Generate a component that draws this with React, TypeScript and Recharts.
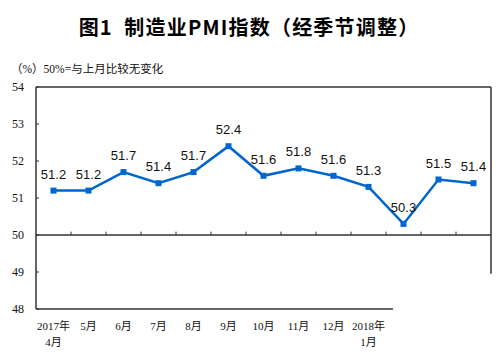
import React from "react"
import { LineChart, Line, XAxis, YAxis, ReferenceLine, LabelList } from "recharts"

// 制造业PMI指数（经季节调整）
const months = ["2017年\n4月", "5月", "6月", "7月", "8月", "9月", "10月", "11月", "12月", "2018年\n1月", "", "", ""]
const pmi = [51.2, 51.2, 51.7, 51.4, 51.7, 52.4, 51.6, 51.8, 51.6, 51.3, 50.3, 51.5, 51.4]
const yTicks = [48, 49, 50, 51, 52, 53, 54]
const labelTicks = [0, 1, 2, 3, 4, 5, 6, 7, 8, 9]
const midTicks = [0.5, 1.5, 2.5, 3.5, 4.5, 5.5, 6.5, 7.5, 8.5, 9.5, 10.5, 11.5]

const data = pmi.map((value, i) => ({ i, month: months[i], value }))

const BLUE = "#0066cc"
const AXIS = "#333"
const serif = '"Liberation Serif", "Noto Sans CJK SC", serif'

function MonthTick({ x, y, payload }: any) {
  const lines = String(months[payload.value] ?? "").split("\n")
  return (
    <text x={x} y={y + 13} textAnchor="middle" fontSize={11} fontFamily={serif} fill="#111">
      {lines.map((l, k) => (
        <tspan key={k} x={x} dy={k === 0 ? 0 : 16}>
          {l}
        </tspan>
      ))}
    </text>
  )
}

function SquareDot({ cx, cy, index }: any) {
  return <rect key={`dot-${index}`} x={cx - 3} y={cy - 3} width={6} height={6} fill={BLUE} />
}

export default function App() {
  return (
    <div style={{ position: "absolute", left: 0, top: 0, width: 498, height: 355, background: "#fff" }}>
      <div
        style={{
          position: "absolute",
          top: 15,
          left: 0,
          width: 498,
          textAlign: "center",
          fontFamily: '"Noto Sans CJK SC", sans-serif',
          fontWeight: 700,
          fontSize: 20,
          letterSpacing: 1.2,
          lineHeight: "24px",
          whiteSpace: "pre",
          color: "#000",
        }}
      >
        {"图1  制造业PMI指数（经季节调整）"}
      </div>
      <div
        style={{
          position: "absolute",
          top: 62,
          left: 11,
          fontFamily: serif,
          fontSize: 11.5,
          lineHeight: "14px",
          color: "#111",
        }}
      >
        （%）50%=与上月比较无变化
      </div>
      <div style={{ position: "absolute", left: 0, top: 0 }}>
        <LineChart width={498} height={355} data={data} margin={{ top: 87, right: 7, bottom: 0, left: 0 }}>
          <XAxis
            type="number"
            dataKey="i"
            domain={[-0.5, 12.5]}
            ticks={labelTicks}
            interval={0}
            axisLine={false}
            tickLine={false}
            height={46}
            tick={<MonthTick />}
          />
          <YAxis
            domain={[48, 54]}
            ticks={yTicks}
            width={36}
            axisLine={{ stroke: AXIS, strokeWidth: 1.5 }}
            tickLine={{ stroke: AXIS }}
            tickSize={-3}
            tickMargin={15}
            tick={{ fontSize: 12, fontFamily: serif, fill: "#111" }}
          />
          <ReferenceLine y={54} stroke={AXIS} strokeWidth={1.5} ifOverflow="visible" />
          <ReferenceLine y={50} stroke={AXIS} strokeWidth={1.5} ifOverflow="visible" />
          <ReferenceLine
            segment={[{ x: 12.5, y: 54 }, { x: 12.5, y: 48.95 }]}
            stroke={AXIS}
            strokeWidth={1.5}
            ifOverflow="visible"
          />
          <ReferenceLine
            segment={[{ x: -0.5, y: 48 }, { x: 9.7, y: 48 }]}
            stroke={AXIS}
            strokeWidth={1.5}
            ifOverflow="visible"
          />
          {midTicks.map((t) => (
            <ReferenceLine
              key={t}
              segment={[{ x: t, y: 50 }, { x: t, y: 50.09 }]}
              stroke={AXIS}
              strokeWidth={1}
              ifOverflow="visible"
            />
          ))}
          <Line
            type="linear"
            dataKey="value"
            stroke={BLUE}
            strokeWidth={2.5}
            dot={<SquareDot />}
            activeDot={false}
            isAnimationActive={false}
          >
            <LabelList
              dataKey="value"
              position="top"
              offset={12}
              fontSize={13}
              fontFamily='"Liberation Sans", Arial, sans-serif'
              fill="#111"
              formatter={(v: number) => v.toFixed(1)}
            />
          </Line>
        </LineChart>
      </div>
    </div>
  )
}
